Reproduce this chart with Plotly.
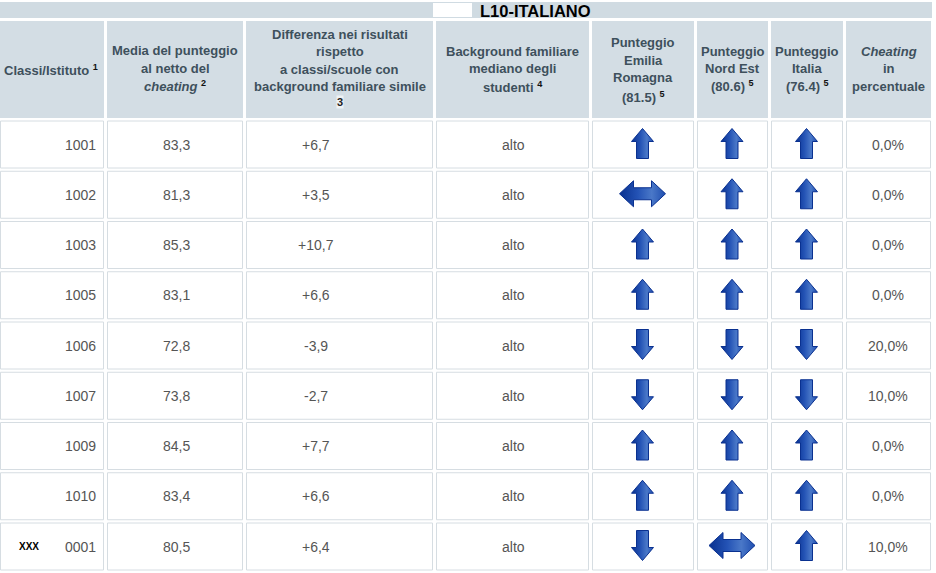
import plotly.graph_objects as go

# ---------------- data ----------------
title = "L10-ITALIANO"
ids = ["1001", "1002", "1003", "1005", "1006", "1007", "1009", "1010", "0001"]
media = [83.3, 81.3, 85.3, 83.1, 72.8, 73.8, 84.5, 83.4, 80.5]
differenza = [6.7, 3.5, 10.7, 6.6, -3.9, -2.7, 7.7, 6.6, 6.4]
background = ["alto"] * 9
emilia = ["up", "both", "up", "up", "down", "down", "up", "up", "down"]
nordest = ["up", "up", "up", "up", "down", "down", "up", "up", "both"]
italia = ["up", "up", "up", "up", "down", "down", "up", "up", "up"]
cheating = [0.0, 0.0, 0.0, 0.0, 20.0, 10.0, 0.0, 0.0, 10.0]

headers = [
    ["Classi/Istituto <sup>1</sup>"],
    ["Media del punteggio", "al netto del", "<i>cheating</i> <sup>2</sup>"],
    ["Differenza nei risultati", "rispetto", "a classi/scuole con",
     "background familiare simile", "3"],
    ["Background familiare", "mediano degli", "studenti <sup>4</sup>"],
    ["Punteggio", "Emilia", "Romagna", "(81.5) <sup>5</sup>"],
    ["Punteggio", "Nord Est", "(80.6) <sup>5</sup>"],
    ["Punteggio", "Italia", "(76.4) <sup>5</sup>"],
    ["<i>Cheating</i>", "in", "percentuale"],
]

# ---------------- layout geometry ----------------
W, H = 936, 573
cols = [(0, 104), (107, 243), (246, 433), (436, 589), (592, 694),
        (697, 768), (771, 843), (846, 931)]
head_top, head_bot = 21, 118
row_top0, row_pitch, row_h = 121, 50.25, 47
header_line_y = [
    [70],
    [50, 68, 86],
    [34, 51, 69, 86, 102],
    [51, 68, 87],
    [42, 60, 77, 97],
    [51, 68, 86],
    [51, 68, 86],
    [51, 68, 86],
]
data_x = [98, 176, 316, 513, None, None, None, 888]

HEAD_FILL = "#d3dde4"
HEAD_TXT = "#3e505c"
CELL_LINE = "#d6dde2"
DATA_TXT = "#555555"
FONT = "Liberation Sans, Arial, sans-serif"

fig = go.Figure()
shapes = []
annotations = []

# title bar
shapes.append(dict(type="rect", xref="x", yref="y", x0=0, x1=932, y0=2, y1=18,
                   fillcolor="#d0dbe2", line=dict(width=0), layer="below"))
shapes.append(dict(type="rect", xref="x", yref="y", x0=433, x1=472, y0=3, y1=17,
                   fillcolor="#ffffff", line=dict(width=0), layer="below"))
annotations.append(dict(x=535, y=11, xref="x", yref="y", text="<b>" + title + "</b>",
                        showarrow=False, xanchor="center", yanchor="middle",
                        font=dict(family=FONT, size=16.5, color="#000000")))

# header cells
for ci, (x0, x1) in enumerate(cols):
    shapes.append(dict(type="rect", xref="x", yref="y", x0=x0, x1=x1, y0=head_top,
                       y1=head_bot, fillcolor=HEAD_FILL, line=dict(width=0), layer="below"))
    cx = (x0 + x1) / 2
    for line, ly in zip(headers[ci], header_line_y[ci]):
        if ci == 2 and line == "3":
            annotations.append(dict(x=cx, y=ly, xref="x", yref="y", text="<b>3</b>",
                                    showarrow=False, xanchor="center", yanchor="middle",
                                    bgcolor="#eef2f4", borderpad=0,
                                    font=dict(family=FONT, size=11, color="#222222")))
            continue
        txt = line.replace("<sup>", "<sup><span style='color:#111'>").replace("</sup>", "</span></sup>")
        annotations.append(dict(x=(x0 + 2) if ci == 0 else cx, y=ly, xref="x", yref="y",
                                text="<b>" + txt + "</b>", showarrow=False,
                                xanchor="left" if ci == 0 else "center", yanchor="middle",
                                font=dict(family=FONT, size=13, color=HEAD_TXT)))


def fmt(v, sign=False):
    s = f"{v:+.1f}" if sign else f"{v:.1f}"
    return s.replace(".", ",")


def arrow_poly(kind, cx, cy):
    if kind == "up":
        pts = [(0, -15), (11, -2), (6, -2), (6, 15), (-6, 15), (-6, -2), (-11, -2)]
    elif kind == "down":
        pts = [(0, 15), (11, 2), (6, 2), (6, -15), (-6, -15), (-6, 2), (-11, 2)]
    else:
        pts = [(-23, 0), (-9, -13), (-9, -6), (9, -6), (9, -13), (23, 0),
               (9, 13), (9, 6), (-9, 6), (-9, 13)]
    xs = [cx + p[0] for p in pts] + [cx + pts[0][0]]
    ys = [cy + p[1] for p in pts] + [cy + pts[0][1]]
    return xs, ys


arrow_cols = [emilia, nordest, italia]
for ri in range(len(ids)):
    top = row_top0 + ri * row_pitch
    cy = top + row_h / 2
    for ci, (x0, x1) in enumerate(cols):
        shapes.append(dict(type="rect", xref="x", yref="y", x0=x0 + 0.5, x1=x1 - 0.5,
                           y0=top, y1=top + row_h, fillcolor="#ffffff",
                           line=dict(color=CELL_LINE, width=1), layer="below"))
    texts = [ids[ri], fmt(media[ri]), fmt(differenza[ri], True), background[ri],
             None, None, None, fmt(cheating[ri]) + "%"]
    for ci, (t, xp) in enumerate(zip(texts, data_x)):
        if t is None:
            continue
        annotations.append(dict(x=xp, y=cy, xref="x", yref="y", text=t, showarrow=False,
                                xanchor="right" if ci == 0 else "center", yanchor="middle",
                                font=dict(family=FONT, size=14, color=DATA_TXT)))
    for k, series in enumerate(arrow_cols):
        x0, x1 = cols[4 + k]
        cx = (x0 + x1) / 2 - 0.5
        xs, ys = arrow_poly(series[ri], cx, cy - 1)
        fig.add_trace(go.Scatter(
            x=xs, y=ys, mode="lines", fill="toself",
            line=dict(color="#0a3190", width=1),
            fillgradient=dict(type="horizontal",
                              colorscale=[[0, "#08308f"], [0.4, "#2453b5"],
                                          [0.7, "#4a78c8"], [1, "#1f4eb0"]]),
            hoverinfo="skip", showlegend=False))

annotations.append(dict(x=17, y=row_top0 + 8 * row_pitch + 23, xref="x", yref="y",
                        text="<b>XXX</b>", showarrow=False, xanchor="left", yanchor="middle",
                        font=dict(family=FONT, size=10, color="#000000")))

fig.update_layout(
    width=W, height=H, margin=dict(l=0, r=0, t=0, b=0),
    paper_bgcolor="#ffffff", plot_bgcolor="#ffffff",
    xaxis=dict(range=[0, W], visible=False, fixedrange=True),
    yaxis=dict(range=[H, 0], visible=False, fixedrange=True),
    shapes=shapes, annotations=annotations, showlegend=False,
)
fig.write_html("out.html", config={"displayModeBar": False},
               post_script="document.body.style.margin='0px';document.body.style.overflow='hidden';")
